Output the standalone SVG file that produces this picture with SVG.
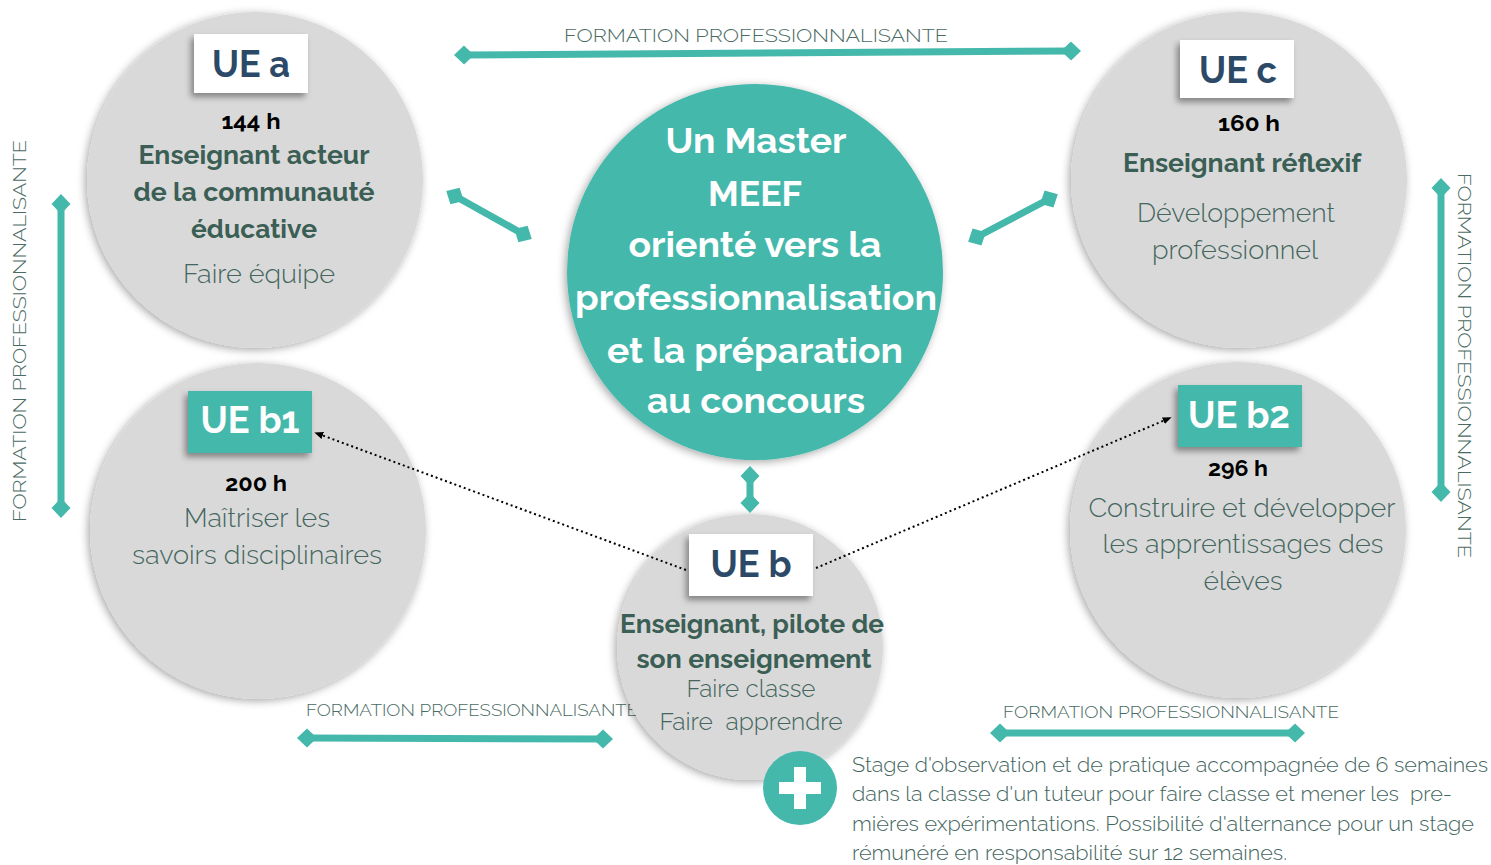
<svg xmlns="http://www.w3.org/2000/svg" width="1491" height="865" viewBox="0 0 1491 865">
<defs>
<style>
text{font-family:Raleway,Lato,"Open Sans","Liberation Sans",sans-serif}
.m{text-anchor:middle}
.b{font-weight:700;fill:#3b5e55;font-size:26px}
.l{font-weight:300;fill:#44665e;font-size:26px}
.h{font-weight:700;fill:#000;font-size:22px}
.ue{font-weight:700;font-size:38px;fill:#2c4a67}
.uw{font-weight:700;font-size:38px;fill:#fff}
.c{font-weight:700;fill:#fff;font-size:35px}
.f{font-weight:300;fill:#4a6b63;font-size:19px}
.p{font-weight:300;fill:#44665e;font-size:20.5px}
.pre{white-space:pre}
.node{fill:#d9d9d9;filter:url(#sh)}
.tl{stroke:#45b8ac;stroke-width:7;fill:none;marker-start:url(#dia);marker-end:url(#dia)}
.dot{stroke:#000;stroke-width:2;stroke-dasharray:2 3;fill:none;marker-end:url(#arr)}
</style>
<filter id="sh" x="-20%" y="-20%" width="140%" height="140%">
<feDropShadow dx="-2" dy="2" stdDeviation="4" flood-color="#000" flood-opacity="0.35"/>
</filter>
<filter id="bsh" x="-30%" y="-30%" width="160%" height="160%">
<feDropShadow dx="-3" dy="4" stdDeviation="3" flood-color="#000" flood-opacity="0.4"/>
</filter>
<marker id="dia" viewBox="-11 -11 22 22" markerWidth="22" markerHeight="22" refX="0" refY="0" orient="auto" markerUnits="userSpaceOnUse">
<path d="M-10,0 L0,-9.5 L10,0 L0,9.5Z" fill="#45b8ac"/>
</marker>
<marker id="arr" viewBox="0 0 10 10" markerWidth="9" markerHeight="9" refX="8" refY="5" orient="auto" markerUnits="userSpaceOnUse">
<path d="M0,1 L10,5 L0,9Z" fill="#000"/>
</marker>
</defs>
<rect width="1491" height="865" fill="#fff"/>

<g id="labels">
<text class="f m" x="756" y="42" textLength="384" lengthAdjust="spacingAndGlyphs">FORMATION PROFESSIONNALISANTE</text>
<text class="f" transform="translate(26,522) rotate(-90)" textLength="382" lengthAdjust="spacingAndGlyphs">FORMATION PROFESSIONNALISANTE</text>
<text class="f" transform="translate(1458,173) rotate(90)" textLength="385" lengthAdjust="spacingAndGlyphs">FORMATION PROFESSIONNALISANTE</text>
<text class="f" x="306" y="716" style="font-size:17.5px" textLength="332" lengthAdjust="spacingAndGlyphs">FORMATION PROFESSIONNALISANTE</text>
<text class="f" x="1003" y="718" style="font-size:17.5px" textLength="336" lengthAdjust="spacingAndGlyphs">FORMATION PROFESSIONNALISANTE</text>
</g>

<g id="ue-a">
<circle class="node" cx="255" cy="180" r="168"/>
<rect x="194" y="34" width="114" height="59" fill="#fff" filter="url(#bsh)"/>
<text class="ue m" x="251" y="77" textLength="78" lengthAdjust="spacingAndGlyphs">UE a</text>
<text class="h m" x="251" y="129" textLength="59" lengthAdjust="spacingAndGlyphs">144 h</text>
<text class="b m" x="254" y="164" textLength="231" lengthAdjust="spacingAndGlyphs">Enseignant acteur</text>
<text class="b m" x="254" y="201" textLength="241" lengthAdjust="spacingAndGlyphs">de la communauté</text>
<text class="b m" x="254" y="238" textLength="126" lengthAdjust="spacingAndGlyphs">éducative</text>
<text class="l m" x="259" y="283" textLength="152" lengthAdjust="spacingAndGlyphs">Faire équipe</text>
</g>

<g id="ue-c">
<circle class="node" cx="1239" cy="180" r="168"/>
<rect x="1180" y="40" width="114" height="58" fill="#fff" filter="url(#bsh)"/>
<text class="ue m" x="1238" y="83" textLength="78" lengthAdjust="spacingAndGlyphs">UE c</text>
<text class="h m" x="1249" y="131" textLength="62" lengthAdjust="spacingAndGlyphs">160 h</text>
<text class="b m" x="1242" y="172" textLength="238" lengthAdjust="spacingAndGlyphs">Enseignant réflexif</text>
<text class="l m" x="1236" y="222" textLength="198" lengthAdjust="spacingAndGlyphs">Développement</text>
<text class="l m" x="1235" y="259" textLength="166" lengthAdjust="spacingAndGlyphs">professionnel</text>
</g>

<g id="ue-b1">
<circle class="node" cx="258" cy="531" r="168"/>
<rect x="188" y="391" width="124" height="62" fill="#45b8ac" filter="url(#bsh)"/>
<text class="uw m" x="250" y="433" textLength="99" lengthAdjust="spacingAndGlyphs">UE b1</text>
<text class="h m" x="256" y="491" textLength="62" lengthAdjust="spacingAndGlyphs">200 h</text>
<text class="l m" x="257" y="527" textLength="146" lengthAdjust="spacingAndGlyphs">Maîtriser les</text>
<text class="l m" x="257" y="564" textLength="250" lengthAdjust="spacingAndGlyphs">savoirs disciplinaires</text>
</g>

<g id="ue-b2">
<circle class="node" cx="1238" cy="530" r="168"/>
<rect x="1178" y="385" width="124" height="62" fill="#45b8ac" filter="url(#bsh)"/>
<text class="uw m" x="1239" y="428" textLength="102" lengthAdjust="spacingAndGlyphs">UE b2</text>
<text class="h m" x="1238" y="476" textLength="60" lengthAdjust="spacingAndGlyphs">296 h</text>
<text class="l m" x="1242" y="517" textLength="307" lengthAdjust="spacingAndGlyphs">Construire et développer</text>
<text class="l m" x="1243" y="553" textLength="281" lengthAdjust="spacingAndGlyphs">les apprentissages des</text>
<text class="l m" x="1243" y="590" textLength="79" lengthAdjust="spacingAndGlyphs">élèves</text>
</g>

<g id="master">
<circle cx="755" cy="272" r="188" fill="#45b8ac" filter="url(#sh)"/>
<text class="c m" x="756" y="153" textLength="181" lengthAdjust="spacingAndGlyphs">Un Master</text>
<text class="c m" x="755" y="206" textLength="94" lengthAdjust="spacingAndGlyphs">MEEF</text>
<text class="c m" x="755" y="257" textLength="253" lengthAdjust="spacingAndGlyphs">orienté vers la</text>
<text class="c m" x="756" y="310" textLength="362" lengthAdjust="spacingAndGlyphs">professionnalisation</text>
<text class="c m" x="755" y="363" textLength="296" lengthAdjust="spacingAndGlyphs">et la préparation</text>
<text class="c m" x="756" y="413" textLength="218" lengthAdjust="spacingAndGlyphs">au concours</text>
</g>

<g id="ue-b">
<circle class="node" cx="750" cy="647" r="133"/>
<rect x="689" y="534" width="124" height="62" fill="#fff" filter="url(#bsh)"/>
<text class="ue m" x="751" y="577" textLength="81" lengthAdjust="spacingAndGlyphs">UE b</text>
<text class="b m" x="752" y="633" textLength="264" lengthAdjust="spacingAndGlyphs">Enseignant, pilote de</text>
<text class="b m" x="754" y="668" textLength="235" lengthAdjust="spacingAndGlyphs">son enseignement</text>
<text class="l m" x="751" y="697" style="font-size:24px" textLength="129" lengthAdjust="spacingAndGlyphs">Faire classe</text>
<text class="l m pre" x="751" y="730" style="font-size:24px" textLength="183" lengthAdjust="spacingAndGlyphs" xml:space="preserve">Faire  apprendre</text>
</g>

<g id="stage">
<circle cx="800" cy="788" r="37" fill="#45b8ac"/>
<rect x="794" y="767" width="12" height="42" fill="#fff"/>
<rect x="779" y="782" width="42" height="12" fill="#fff"/>
<text class="p" x="852" y="772" textLength="636" lengthAdjust="spacingAndGlyphs">Stage d'observation et de pratique accompagnée de 6 semaines</text>
<text class="p pre" x="852" y="801" textLength="600" lengthAdjust="spacingAndGlyphs" xml:space="preserve">dans la classe d'un tuteur pour faire classe et mener les  pre-</text>
<text class="p" x="852" y="831" textLength="622" lengthAdjust="spacingAndGlyphs">mières expérimentations. Possibilité d'alternance pour un stage</text>
<text class="p" x="852" y="860" textLength="435" lengthAdjust="spacingAndGlyphs">rémunéré en responsabilité sur 12 semaines.</text>
</g>

<g id="connectors">
<line class="tl" x1="464" y1="55" x2="1071" y2="51"/>
<line class="tl" x1="61" y1="204" x2="61" y2="508"/>
<line class="tl" x1="1441" y1="188" x2="1441" y2="492"/>
<line class="tl" x1="307" y1="738" x2="603" y2="739"/>
<line class="tl" x1="1000" y1="733" x2="1295" y2="733"/>
<line class="tl" x1="455" y1="196" x2="523" y2="234"/>
<line class="tl" x1="977" y1="237" x2="1049" y2="199"/>
<line class="tl" x1="750" y1="476" x2="750" y2="503"/>
<line class="dot" x1="686" y1="570" x2="316" y2="433"/>
<line class="dot" x1="816" y1="568" x2="1170" y2="418"/>
</g>
</svg>
